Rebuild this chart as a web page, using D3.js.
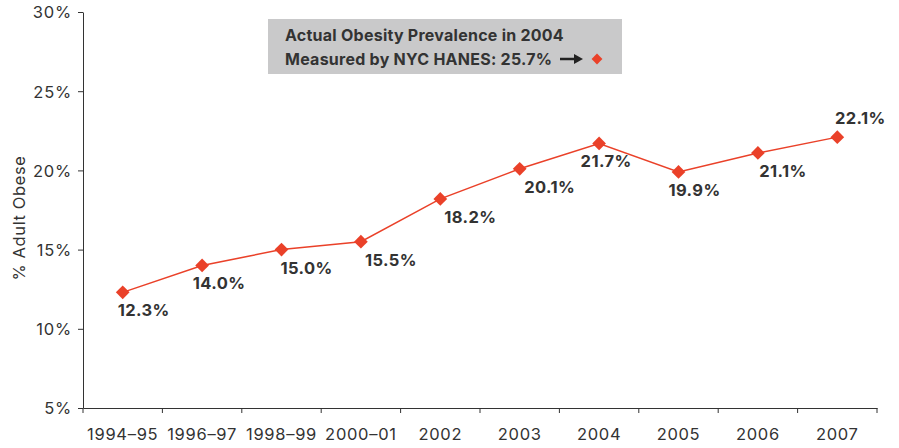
<!DOCTYPE html>
<html>
<head>
<meta charset="utf-8">
<script src="https://cdn.jsdelivr.net/npm/d3@7"></script>
<style>
  body { margin: 0; background: #fff; }
  text { font-family: Inter, "Liberation Sans", sans-serif; }
</style>
</head>
<body>
<div id="chart"></div>
<script>
// data
var periods = ["1994\u201395", "1996\u201397", "1998\u201399", "2000\u201301", "2002",
               "2003", "2004", "2005", "2006", "2007"];
var obese = [12.3, 14.0, 15.0, 15.5, 18.2, 20.1, 21.7, 19.9, 21.1, 22.1];
var yTicks = [5, 10, 15, 20, 25, 30];
var noteLines = ["Actual Obesity Prevalence in 2004", "Measured by NYC HANES: 25.7%"];

// label nudges (layout only)
var labelDx = [21, 17, 25, 30, 30, 30, 7, 16, 25, 23];
var labelAbove = [false, false, false, false, false, false, false, false, false, true];

var w = 899, h = 448;
var margin = {left: 83, right: 22, top: 12, bottom: 40};
var red = "#ea4129";
var ink = "#333";

var svg = d3.select("#chart").append("svg")
  .attr("width", w)
  .attr("height", h);

var x = d3.scaleBand()
  .domain(periods)
  .range([margin.left, w - margin.right]);

var y = d3.scaleLinear()
  .domain([5, 30])
  .range([h - margin.bottom, margin.top]);

// axes
var xAxis = svg.append("g")
  .attr("transform", "translate(0," + (h - margin.bottom) + ")")
  .call(d3.axisBottom(x).tickSizeInner(0).tickSizeOuter(0).tickPadding(20));
xAxis.select(".domain").attr("stroke", ink);
xAxis.selectAll("text").attr("font-size", 16.5).attr("letter-spacing", 0.7).attr("fill", ink);

// band boundary ticks
var bounds = periods.map(function(p) { return x(p); }).concat([x.range()[1]]);
svg.append("g").selectAll("line")
  .data(bounds)
  .enter().append("line")
  .attr("x1", function(d) { return d; })
  .attr("x2", function(d) { return d; })
  .attr("y1", h - margin.bottom)
  .attr("y2", h - margin.bottom + 5)
  .attr("stroke", ink);

var yAxis = svg.append("g")
  .attr("transform", "translate(" + margin.left + ",0)")
  .call(d3.axisLeft(y).tickValues(yTicks).tickSize(5).tickSizeOuter(0).tickPadding(6)
    .tickFormat(function(d) { return d + "%"; }));
yAxis.select(".domain").attr("stroke", ink);
yAxis.selectAll(".tick line").attr("stroke", ink);
yAxis.selectAll("text").attr("font-size", 16.5).attr("letter-spacing", 0.8)
  .attr("fill", ink).attr("dy", "0.36em");

svg.append("text")
  .attr("transform", "translate(25," + ((margin.top + h - margin.bottom) / 2 + 8) + ") rotate(-90)")
  .attr("text-anchor", "middle")
  .attr("font-size", 16.5)
  .attr("letter-spacing", 0.6)
  .attr("fill", ink)
  .text("% Adult Obese");

// line
var cx = function(d, i) { return x(periods[i]) + x.bandwidth() / 2; };
var line = d3.line()
  .x(function(d, i) { return cx(d, i); })
  .y(function(d) { return y(d); });

svg.append("path")
  .datum(obese)
  .attr("d", line)
  .attr("fill", "none")
  .attr("stroke", red)
  .attr("stroke-width", 1.5);

var diamond = d3.symbol().type(d3.symbolDiamond2).size(120);

svg.append("g").selectAll("path")
  .data(obese)
  .enter().append("path")
  .attr("d", diamond)
  .attr("transform", function(d, i) { return "translate(" + cx(d, i) + "," + y(d) + ")"; })
  .attr("fill", red);

svg.append("g").selectAll("text")
  .data(obese)
  .enter().append("text")
  .attr("x", function(d, i) { return cx(d, i) + labelDx[i]; })
  .attr("y", function(d, i) { return y(d) + (labelAbove[i] ? -13 : 24); })
  .attr("text-anchor", "middle")
  .attr("font-size", 16.5)
  .attr("letter-spacing", 0.4)
  .attr("font-weight", "bold")
  .attr("fill", ink)
  .text(function(d) { return d.toFixed(1) + "%"; });

// annotation box
var note = svg.append("g");
note.append("rect")
  .attr("x", 268).attr("y", 19)
  .attr("width", 354).attr("height", 55)
  .attr("fill", "#c9c9ca");
note.selectAll("text")
  .data(noteLines)
  .enter().append("text")
  .attr("x", 285)
  .attr("y", function(d, i) { return 41 + i * 24; })
  .attr("font-size", 16)
  .attr("letter-spacing", 0.25)
  .attr("font-weight", "bold")
  .attr("fill", ink)
  .text(function(d) { return d; });
note.append("line")
  .attr("x1", 560).attr("x2", 576)
  .attr("y1", 59).attr("y2", 59)
  .attr("stroke", "#222").attr("stroke-width", 2.5);
note.append("path")
  .attr("d", "M574,54 L583,59 L574,64 Z")
  .attr("fill", "#222");
note.append("path")
  .attr("d", d3.symbol().type(d3.symbolDiamond2).size(75))
  .attr("transform", "translate(597,59)")
  .attr("fill", red);
</script>
</body>
</html>
